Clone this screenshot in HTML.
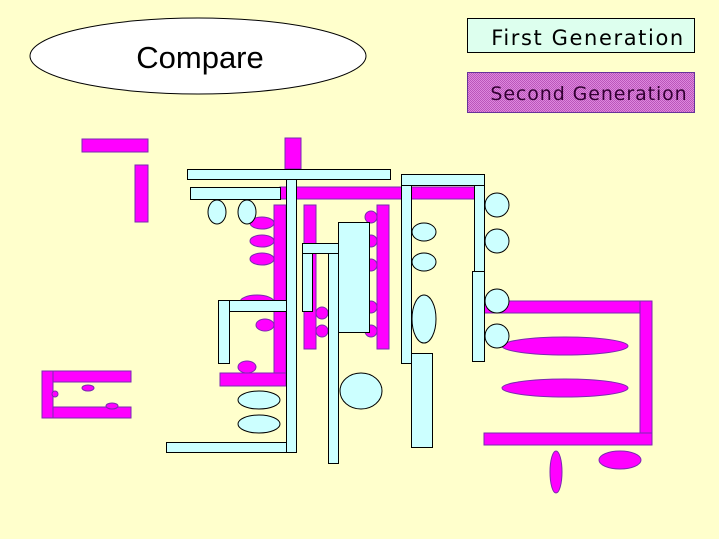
<!DOCTYPE html>
<html><head><meta charset="utf-8"><style>
html,body{margin:0;padding:0;background:#ffffcc;}
svg{display:block;}
</style></head><body>
<svg width="719" height="539" viewBox="0 0 719 539" xmlns="http://www.w3.org/2000/svg">
<defs>
<pattern id="dots" width="2" height="2" patternUnits="userSpaceOnUse">
<rect width="2" height="2" fill="#dd88dd"/><rect width="1" height="1" fill="#bb55bb"/><rect x="1" y="1" width="1" height="1" fill="#bb55bb"/>
</pattern>
</defs>
<rect width="719" height="539" fill="#ffffcc"/>
<ellipse cx="198" cy="56" rx="168" ry="38" fill="#fff" stroke="#000"/>
<text x="200" y="68" font-family="Liberation Sans, sans-serif" font-size="31" text-anchor="middle">Compare</text>
<rect x="467.5" y="18.5" width="227" height="34" fill="#ddffee" stroke="#000"/>
<text x="588" y="45" font-family="DejaVu Sans, sans-serif" font-size="21" font-weight="500" text-anchor="middle" letter-spacing="1.6">First Generation</text>
<rect x="467.5" y="72.5" width="227" height="40" fill="url(#dots)" stroke="#663399"/>
<text x="589" y="100" font-family="DejaVu Sans, sans-serif" font-size="19" text-anchor="middle" fill="#330033" letter-spacing="0.9">Second Generation</text>

<g fill="#ff00ff" stroke="#7a2ab0" stroke-width="1">
<rect x="82" y="139" width="66" height="13"/>
<rect x="135" y="165" width="13" height="57"/>
<rect x="42" y="371" width="89" height="11"/>
<rect x="42" y="371" width="11" height="47"/>
<rect x="53" y="407" width="78" height="11"/>
<ellipse cx="88" cy="388" rx="6" ry="3"/>
<ellipse cx="112" cy="406" rx="6" ry="3"/>
<ellipse cx="55" cy="394" rx="3" ry="3"/>
<rect x="285" y="138" width="16" height="31"/>
<rect x="280" y="187" width="195" height="12"/>
<rect x="274" y="205" width="12" height="181"/>
<ellipse cx="262" cy="223" rx="12" ry="6"/>
<ellipse cx="262" cy="241" rx="12" ry="6"/>
<ellipse cx="262" cy="259" rx="12" ry="6"/>
<ellipse cx="257" cy="302" rx="17" ry="7"/>
<ellipse cx="265" cy="325" rx="9" ry="6"/>
<ellipse cx="247" cy="367" rx="9" ry="6"/>
<rect x="220" y="373" width="66" height="13"/>
<rect x="304" y="205" width="12" height="144"/>
<circle cx="322" cy="313" r="6"/>
<circle cx="322" cy="331" r="6"/>
<rect x="377" y="205" width="12" height="144"/>
<circle cx="371" cy="217" r="6"/>
<circle cx="371" cy="241" r="6"/>
<circle cx="371" cy="265" r="6"/>
<circle cx="371" cy="307" r="6"/>
<circle cx="371" cy="331" r="6"/>
<rect x="484" y="301" width="168" height="12"/>
<rect x="640" y="301" width="12" height="144"/>
<rect x="484" y="433" width="168" height="12"/>
<ellipse cx="565" cy="346" rx="63" ry="9"/>
<ellipse cx="565" cy="388" rx="63" ry="9"/>
<ellipse cx="556" cy="472" rx="6" ry="21"/>
<ellipse cx="620" cy="460" rx="21" ry="9"/>
</g>

<g fill="#ccffff" stroke="#000" stroke-width="1">
<rect x="187.5" y="169.5" width="203" height="10"/>
<rect x="190.5" y="187.5" width="90" height="12"/>
<ellipse cx="217" cy="212" rx="9" ry="12"/>
<ellipse cx="247" cy="212" rx="9" ry="12"/>
<rect x="286.5" y="179.5" width="10" height="273"/>
<rect x="218.5" y="300.5" width="68" height="11"/>
<rect x="218.5" y="300.5" width="11" height="63"/>
<ellipse cx="259" cy="400" rx="21" ry="9"/>
<ellipse cx="259" cy="424" rx="21" ry="9"/>
<rect x="166.5" y="442.5" width="120" height="10"/>
<rect x="302.5" y="243.5" width="10" height="68"/>
<rect x="302.5" y="243.5" width="36" height="10"/>
<rect x="328.5" y="253.5" width="10" height="210"/>
<rect x="338.5" y="222.5" width="31" height="110"/>
<ellipse cx="361" cy="391" rx="21" ry="18"/>
<rect x="401.5" y="174.5" width="83" height="11"/>
<rect x="401.5" y="185.5" width="10" height="178"/>
<ellipse cx="424" cy="232" rx="12" ry="9"/>
<ellipse cx="424" cy="262" rx="12" ry="9"/>
<ellipse cx="424" cy="319" rx="12" ry="24"/>
<rect x="411.5" y="353.5" width="21" height="94"/>
<rect x="474.5" y="185.5" width="10" height="86"/>
<rect x="472.5" y="271.5" width="12" height="90"/>
<circle cx="497" cy="205" r="12"/>
<circle cx="497" cy="241" r="12"/>
<circle cx="497" cy="301" r="12"/>
<circle cx="497" cy="336" r="12"/>
</g>
</svg>
</body></html>
